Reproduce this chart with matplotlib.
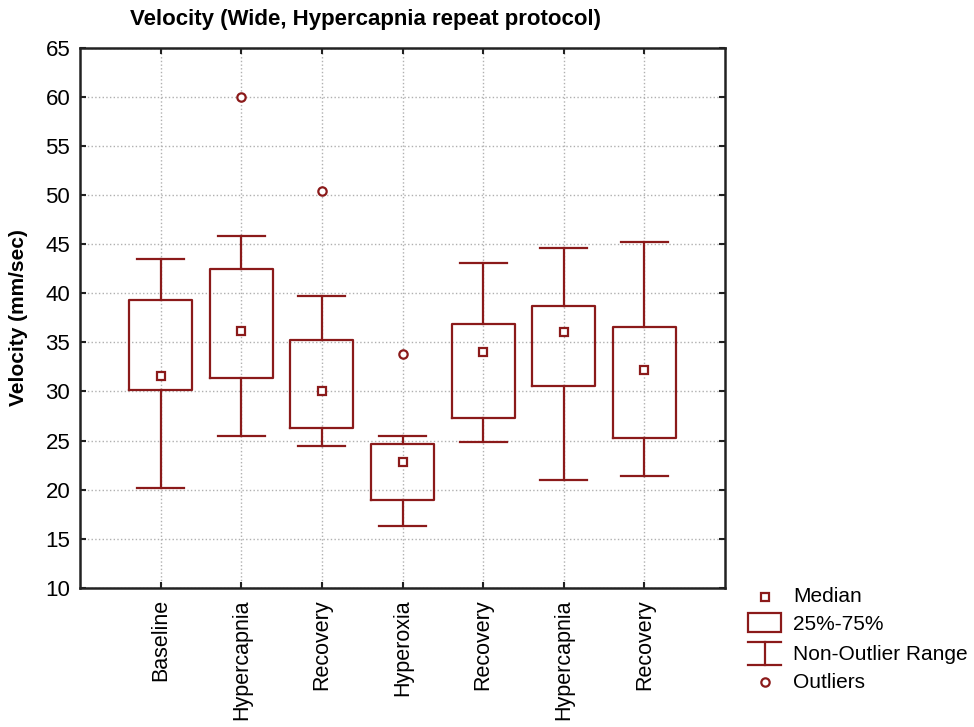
import numpy as np
import matplotlib.pyplot as plt
from matplotlib.patches import Rectangle
from matplotlib.lines import Line2D

plt.rcParams['font.family'] = ['Liberation Sans', 'DejaVu Sans']

# data (mm/sec)
categories = ["Baseline", "Hypercapnia", "Recovery", "Hyperoxia",
              "Recovery", "Hypercapnia", "Recovery"]
medians = [31.6, 36.2, 30.0, 22.8, 34.0, 36.0, 32.2]
q1 = [30.15, 31.4, 26.3, 19.0, 27.3, 30.55, 25.3]
q3 = [39.3, 42.5, 35.2, 24.7, 36.85, 38.7, 36.6]
whisk_lo = [20.2, 25.5, 24.4, 16.3, 24.9, 21.0, 21.4]
whisk_hi = [43.5, 45.8, 39.7, 25.5, 43.1, 44.6, 45.2]
outliers = [[], [60.0], [50.4], [33.8], [], [], []]

red = '#8b1a1a'

fig = plt.figure(figsize=(9.74, 7.27), dpi=100)
ax = fig.add_axes([80 / 974, 1 - 588 / 727, 645 / 974, 540.5 / 727])

stats = []
for i in range(len(categories)):
    stats.append(dict(med=medians[i], q1=q1[i], q3=q3[i],
                      whislo=whisk_lo[i], whishi=whisk_hi[i],
                      fliers=outliers[i], label=categories[i]))

pos = np.arange(1, len(categories) + 1)
ax.bxp(stats, positions=pos, widths=0.78, capwidths=0.58,
       boxprops=dict(color=red, linewidth=1.6),
       whiskerprops=dict(color=red, linewidth=1.6),
       capprops=dict(color=red, linewidth=1.6),
       medianprops=dict(visible=False),
       flierprops=dict(marker='o', markerfacecolor='white', markeredgecolor=red,
                       markersize=6, markeredgewidth=1.6),
       zorder=3)
ax.plot(pos, medians, 's', color=red, markerfacecolor='white',
        markersize=6, markeredgewidth=1.6, linestyle='none', zorder=4)

ax.set_xlim(0, 8)
ax.set_ylim(10, 65)
ax.set_yticks(np.arange(10, 66, 5))
ax.set_xticks(pos)
ax.set_xticklabels(categories, rotation=90, fontsize=15.5)
ax.tick_params(axis='y', labelsize=16, pad=7)
ax.tick_params(axis='x', pad=8)
ax.tick_params(direction='in', length=4, width=1.5, top=True, right=True, color='#222222')
ax.grid(True, linestyle=':', color='#b0b0b0', linewidth=1.0)
ax.set_axisbelow(True)
for sp in ax.spines.values():
    sp.set_linewidth(1.8)
    sp.set_color('#222222')

ax.set_ylabel("Velocity (mm/sec)", fontsize=15, fontweight='bold')
ax.yaxis.set_label_coords((28 - 80) / 645, 0.5)
fig.text(366 / 974, 1 - 20 / 727, "Velocity (Wide, Hypercapnia repeat protocol)",
         ha='center', va='center', fontsize=16, fontweight='bold')

# legend drawn in pixel coordinates of the figure
lg = fig.add_axes([0, 0, 1, 1])
lg.set_xlim(0, 974)
lg.set_ylim(727, 0)
lg.axis('off')
lg.plot([765], [597], 's', color=red, markerfacecolor='white', markersize=6, markeredgewidth=1.6)
lg.add_patch(Rectangle((748, 613), 33, 19, fill=False, edgecolor=red, linewidth=1.6))
lg.add_line(Line2D([748, 781], [642, 642], color=red, linewidth=1.6))
lg.add_line(Line2D([748, 781], [665, 665], color=red, linewidth=1.6))
lg.add_line(Line2D([764.5, 764.5], [642, 665], color=red, linewidth=1.6))
lg.plot([765], [682], 'o', color=red, markerfacecolor='white', markersize=6, markeredgewidth=1.6)
for y, t in [(597, "Median"), (624, "25%-75%"), (654, "Non-Outlier Range"), (682, "Outliers")]:
    lg.text(793, y, t, ha='left', va='center', fontsize=15)

fig.savefig("out.png", dpi=100)
